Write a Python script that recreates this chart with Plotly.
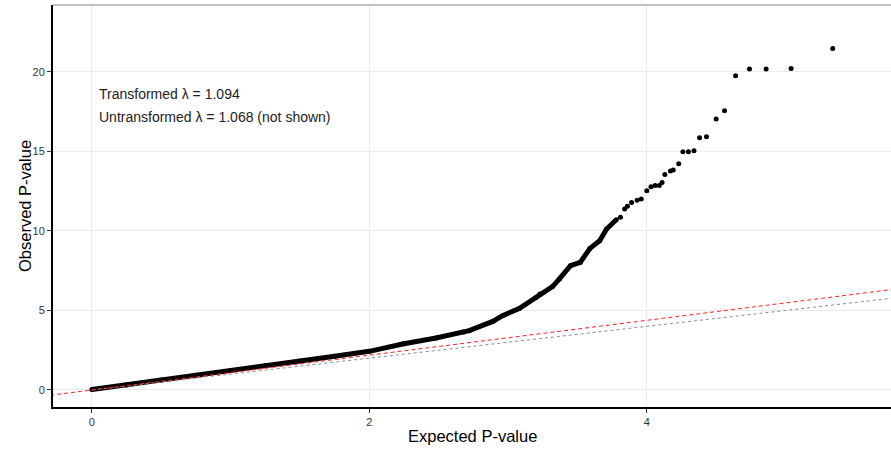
import plotly.graph_objects as go

# Dense part of the QQ curve (expected, observed -log10 P)
dense_x = [0.0, 0.25, 0.5, 0.75, 1.0, 1.25, 1.5, 1.75, 2.0, 2.24, 2.48, 2.68, 2.72, 2.89, 2.96, 3.08,
           3.20, 3.23, 3.32, 3.37, 3.45, 3.52, 3.59, 3.66, 3.71, 3.78]
dense_y = [0.03, 0.32, 0.62, 0.92, 1.22, 1.52, 1.82, 2.12, 2.43, 2.89, 3.27, 3.65, 3.73, 4.31, 4.67, 5.12,
           5.82, 6.03, 6.50, 6.98, 7.81, 8.02, 8.90, 9.38, 10.12, 10.70]

# Sparse upper tail points
tail_x = [3.81, 3.84, 3.86, 3.89, 3.93, 3.96, 4.00, 4.03, 4.06, 4.09, 4.11, 4.13, 4.17, 4.19, 4.23,
          4.26, 4.30, 4.34, 4.38, 4.43, 4.50, 4.56, 4.64, 4.74, 4.86, 5.04, 5.34]
tail_y = [10.85, 11.38, 11.55, 11.79, 11.92, 12.0, 12.53, 12.78, 12.86, 12.86, 13.05, 13.55, 13.76, 13.83, 14.22,
          14.98, 14.98, 15.04, 15.86, 15.92, 17.03, 17.56, 19.76, 20.18, 20.18, 20.21, 21.47]

# Reference lines
red_x = [-0.3, 5.8]
red_y = [-0.33, 6.35]
gray_x = [0.0, 5.8]
gray_y = [0.0, 5.8]

x_ticks = [0, 2, 4]
y_ticks = [0, 5, 10, 15, 20]
label1 = "Transformed λ = 1.094"
label2 = "Untransformed λ = 1.068 (not shown)"
x_title = "Expected P-value"
y_title = "Observed P-value"

fig = go.Figure()
fig.add_trace(go.Scatter(x=dense_x, y=dense_y, mode="lines+markers",
                         line=dict(color="black", width=5),
                         marker=dict(color="black", size=5), hoverinfo="skip"))
fig.add_trace(go.Scatter(x=tail_x, y=tail_y, mode="markers",
                         marker=dict(color="black", size=5), hoverinfo="skip"))
fig.add_trace(go.Scatter(x=gray_x, y=gray_y, mode="lines",
                         line=dict(color="#8c8c8c", width=1, dash="3px,3px"), hoverinfo="skip"))
fig.add_trace(go.Scatter(x=red_x, y=red_y, mode="lines",
                         line=dict(color="#ff2020", width=1, dash="4px,3px"), hoverinfo="skip"))

fig.add_annotation(x=0.035, y=18.62, text=label1, showarrow=False, xanchor="left", yanchor="middle",
                   font=dict(size=14, color="#222222"))
fig.add_annotation(x=0.035, y=17.18, text=label2, showarrow=False, xanchor="left", yanchor="middle",
                   font=dict(size=14, color="#222222"))
fig.add_annotation(x=0, y=0.5, xref="paper", yref="paper", text=y_title, textangle=-90,
                   showarrow=False, xanchor="center", yanchor="middle", xshift=-28,
                   font=dict(size=16.5, color="black"))
fig.add_annotation(x=0.5, y=0, xref="paper", yref="paper", text=x_title,
                   showarrow=False, xanchor="center", yanchor="middle", yshift=-29,
                   font=dict(size=16.5, color="black"))

fig.add_shape(type="line", xref="paper", yref="paper", x0=0, x1=1, y0=1, y1=1,
              line=dict(color="#888888", width=1))

fig.update_layout(
    width=891, height=450,
    margin=dict(l=53, r=0, t=5, b=43),
    paper_bgcolor="white", plot_bgcolor="white",
    showlegend=False,
    font=dict(family="Liberation Sans, Arial, sans-serif", color="#222222"),
    xaxis=dict(range=[-0.28, 5.76], tickvals=x_ticks, ticktext=[str(v) for v in x_ticks],
               showgrid=True, gridcolor="#ebebeb", gridwidth=1, zeroline=False,
               showline=True, linecolor="black", linewidth=2,
               ticks="outside", ticklen=4, tickcolor="#333333",
               tickfont=dict(size=11, color="#333333")),
    yaxis=dict(range=[-1.07, 24.2], tickvals=y_ticks, ticktext=[str(v) for v in y_ticks],
               showgrid=True, gridcolor="#ebebeb", gridwidth=1, zeroline=False,
               showline=True, linecolor="black", linewidth=2,
               ticks="outside", ticklen=4, tickcolor="#333333",
               tickfont=dict(size=11, color="#333333")),
)

fig.write_html("out.html", config={"displayModeBar": False},
               post_script="document.body.style.margin='0';document.body.style.overflow='hidden';")
